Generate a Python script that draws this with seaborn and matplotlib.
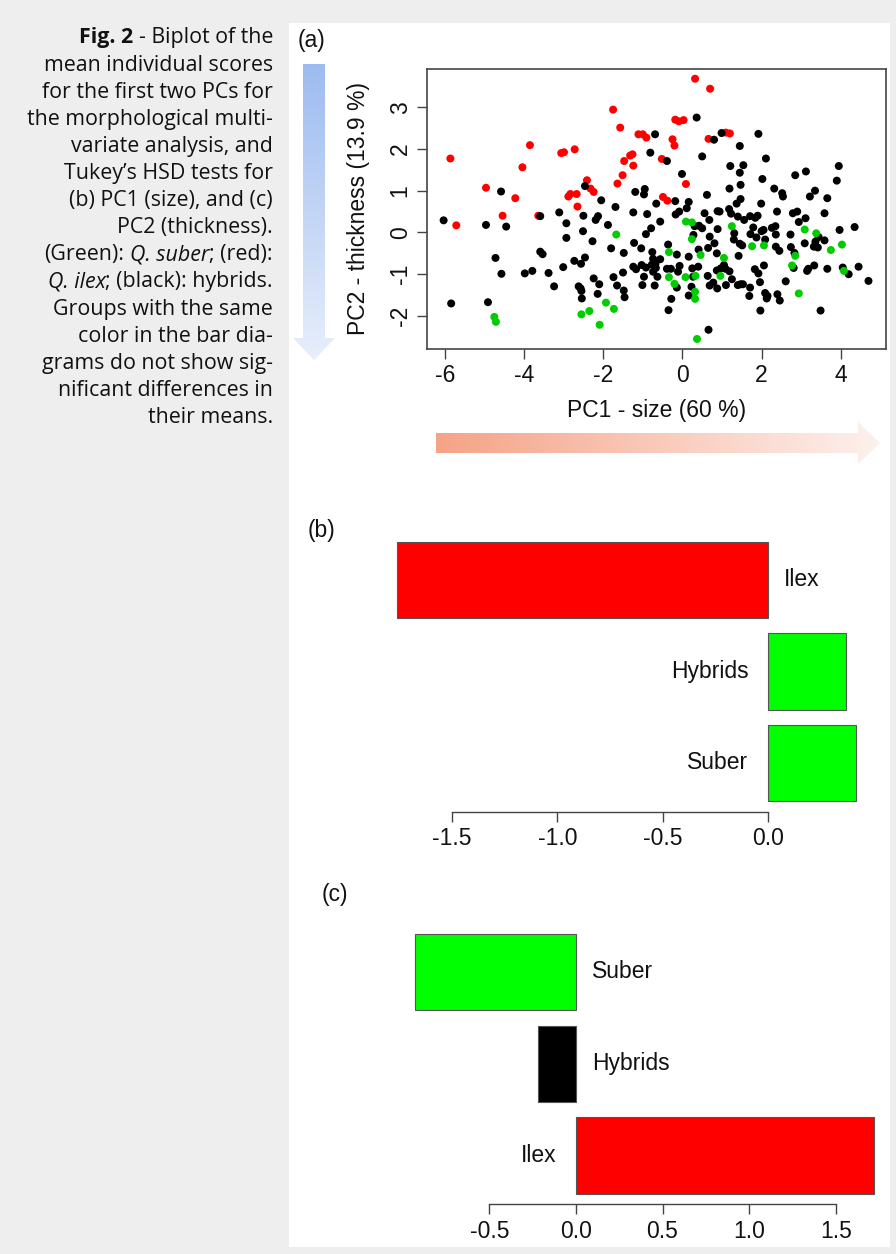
import numpy as np
import pandas as pd
import matplotlib
matplotlib.use("Agg")
import matplotlib.pyplot as plt
import seaborn as sns
from matplotlib.patches import Polygon, Rectangle
from matplotlib.colors import LinearSegmentedColormap

sns.set_theme(style="white")
plt.rcParams["font.family"] = ["Liberation Sans", "DejaVu Sans"]

# ---------------- data: (a) PCA scores ----------------
ilex_pc1 = [-5.86, -3.85, -4.04, -3.06, -2.99, -2.72, -4.96, -4.22, -2.88, -2.83, -2.67, -2.65,
            -5.71, -4.54, -3.64, 0.32, 0.70, -1.75, -1.57, -0.18, -0.09, 0.03, -1.11, -1.00,
            -0.91, -0.25, -0.20, 0.66, 1.10, 1.20, -0.52, -1.32, -1.26, -1.47, -1.24, -1.51,
            -1.64, 0.09, -2.41, -2.32, -2.24, -0.49, -0.38]
ilex_pc2 = [1.77, 2.09, 1.56, 1.90, 1.92, 1.99, 1.07, 0.82, 0.86, 0.92, 0.92, 0.62,
            0.17, 0.40, 0.40, 3.68, 3.44, 2.94, 2.51, 2.70, 2.66, 2.69, 2.35, 2.35,
            2.27, 2.23, 2.08, 2.24, 2.39, 2.37, 1.76, 1.84, 1.87, 1.71, 1.60, 1.37,
            1.17, 1.16, 1.25, 1.05, 0.97, 0.85, 0.76]

hyb_pc1 = [-4.58, -6.03, -4.96, -4.45, -3.59, -3.11, -2.93, -2.93, -3.59, -3.53, -4.72, -4.57,
           -3.98, -3.79, -3.38, -3.01, -2.73, -2.56, -3.24, -2.62, -2.57, -2.55, -2.54, -5.84,
           -4.91,
           0.36, -0.69, 0.80, 0.99, -0.81, -0.39, 0.50, -0.01, 1.21, 1.19, -2.46, -1.19,
           -0.95, -0.97, 0.62, -2.05, -0.66, -0.18, 0.16,
           -1.69, -1.24, -0.89, -2.50, -2.19, -2.13, -1.88, -2.51, -0.56, -0.79, -0.92, -0.17,
           -0.08, 0.11, -2.27, -1.80, -1.22, -1.04, -2.46, -1.48, 0.31, 0.42, 0.50, 0.28,
           0.56, 0.68, 0.69, 0.89, 0.94, 1.18, 1.23, 1.40, 0.89, 0.81, 1.31, 1.30,
           0.65, 0.87, 0.41, 0.16, -0.14, -0.36, -0.76, -0.74, -0.56, -0.77, -0.68, -0.67,
           -0.74, -1.24, -1.17, -1.03, -0.92, -0.97, -0.63, -1.01, -0.70, -0.39, -0.29, -0.07,
           -0.11, -0.14, 0.25, 0.27, 0.23, 0.16, -0.28, -0.35, 0.40, 0.64, 0.87, 0.78,
           0.69, 0.88, 0.97, 1.05, 1.09, 1.10, 1.25, 1.19, 1.40, -2.24, -2.10, -2.14,
           -1.74, -1.65, -1.50, -1.48, -1.46, 0.66,
           1.92, 1.45, 2.11, 1.54, 1.45, 2.02, 1.47, 2.85, 3.12, 3.95, 3.90, 2.32,
           2.52, 2.54, 3.35, 3.22, 3.66, 1.47, 1.99, 1.37,
           2.39, 2.79, 2.90, 3.59, 2.94, 3.11, 1.56, 1.71, 1.84, 1.90, 3.97, 4.35,
           1.79, 2.00, 2.05, 2.26, 2.35, 1.72, 1.87, 2.09, 2.36, 2.73, 3.44, 3.36,
           3.59, 3.32, 3.42, 3.09, 1.45, 1.51, 2.36, 2.45, 2.74, 2.83, 2.81, 1.42,
           2.06, 1.83, 1.92, 3.15, 3.18, 3.33, 3.66, 4.05, 4.20, 4.45, 4.70, 1.96,
           2.61, 1.47, 1.53, 1.71, 1.69, 2.09, 2.15, 2.13, 2.40, 2.46, 1.97, 3.49]
hyb_pc2 = [0.98, 0.29, 0.18, 0.14, 0.39, 0.48, 0.22, -0.13, -0.46, -0.52, -0.61, -0.99,
           -0.98, -0.92, -0.97, -0.83, -0.68, -0.75, -1.29, -1.29, -1.34, -1.40, -1.58, -1.70,
           -1.67,
           2.75, 2.35, 2.22, 2.38, 1.91, 1.71, 1.82, 1.40, 1.59, 1.05, 1.11, 0.97,
           1.04, 0.91, 0.90, 0.77, 0.69, 0.75, 0.73,
           0.61, 0.48, 0.44, 0.40, 0.30, 0.39, 0.18, 0.03, 0.26, 0.10, -0.04, 0.43,
           0.50, 0.58, -0.21, -0.38, -0.25, -0.38, -0.60, -0.49, 0.15, 0.16, 0.10, -0.06,
           0.46, 0.30, -0.10, 0.51, 0.50, 0.56, 0.45, 0.38, 0.08, -0.26, -0.02, -0.17,
           -0.37, -0.50, -0.41, -0.58, -0.53, -0.29, -0.47, -0.63, -0.64, -0.77, -0.75, -0.85,
           -0.94, -0.82, -0.88, -0.78, -0.84, -1.06, -1.06, -1.26, -1.27, -0.87, -0.87, -0.80,
           -0.94, -1.32, -0.86, -1.06, -1.30, -1.51, -1.59, -1.86, -0.82, -1.04, -0.91, -1.20,
           -1.27, -1.34, -0.86, -0.78, -0.87, -1.26, -1.12, -0.93, -1.26, -1.10, -1.24, -1.47,
           -1.07, -1.27, -0.96, -1.39, -1.55, -2.33,
           2.36, 2.07, 1.77, 1.61, 1.43, 1.28, 1.14, 1.37, 1.46, 1.59, 1.24, 1.05,
           0.94, 0.86, 1.00, 0.86, 0.82, 0.80, 0.69, 0.69,
           0.50, 0.46, 0.50, 0.46, 0.25, 0.34, 0.30, 0.39, 0.35, 0.40, 0.06, 0.13,
           0.12, 0.03, 0.06, 0.11, 0.15, -0.04, -0.12, -0.17, -0.05, -0.05, -0.11, -0.22,
           -0.19, -0.34, -0.36, -0.26, -0.27, -0.31, -0.34, -0.44, -0.35, -0.49, -0.85, -0.56,
           -0.79, -0.88, -0.98, -0.92, -0.87, -0.79, -0.87, -0.84, -1.00, -0.82, -1.16, -1.19,
           -1.17, -1.24, -1.24, -1.32, -1.52, -1.45, -1.52, -1.58, -1.48, -1.63, -1.87, -1.87]

suber_pc1 = [-4.75, -4.71, -2.55, -1.67, 0.09, 0.24, 0.24, -0.34, 1.25, 1.05, 0.46, -0.34,
             -0.20, 0.08, 0.33, 0.32, 0.32, 0.96, -1.93, -2.35, -1.73, -2.09, 0.37, 3.09,
             3.38, 1.76, 2.06, 3.75, 4.03, 2.85, 2.77, 4.08, 2.94]
suber_pc2 = [-2.02, -2.14, -1.96, -0.05, 0.26, 0.24, -0.16, -0.47, 0.15, -0.61, -0.54, -1.07,
             -1.23, -1.07, -1.04, -1.42, -1.59, -1.04, -1.68, -1.88, -1.83, -2.21, -2.55, 0.07,
             -0.02, -0.33, -0.31, -0.42, -0.29, -0.56, -0.79, -0.92, -1.46]

group_colors = {"Ilex": "#ff0000", "Hybrids": "#000000", "Suber": "#00cd00"}
pc_x_ticks = [-6, -4, -2, 0, 2, 4]
pc_y_ticks = [-2, -1, 0, 1, 2, 3]

# ---------------- data: (b) PC1 and (c) PC2 group means ----------------
b_species = ["Ilex", "Hybrids", "Suber"]
b_means = [-1.76, 0.37, 0.42]
b_colors = ["#ff0000", "#00ff00", "#00ff00"]
b_ticks = [-1.5, -1.0, -0.5, 0.0]

c_species = ["Suber", "Hybrids", "Ilex"]
c_means = [-0.93, -0.22, 1.72]
c_colors = ["#00ff00", "#000000", "#ff0000"]
c_ticks = [-0.5, 0.0, 0.5, 1.0, 1.5]

W, H = 896, 1254
FS = 16.5

fig = plt.figure(figsize=(W / 100, H / 100), dpi=100)
fig.patch.set_facecolor("#eeeeee")

# background / decoration layer in pixel coordinates
bg = fig.add_axes([0, 0, 1, 1], zorder=-5)
bg.set_xlim(0, W)
bg.set_ylim(H, 0)
bg.axis("off")
bg.add_patch(Rectangle((289, 23), 601, 1224, facecolor="white", edgecolor="none", zorder=0))


def gradient_arrow(ax, verts, extent, c0, c1, vertical):
    cmap = LinearSegmentedColormap.from_list("g", [c0, c1])
    grad = np.linspace(0, 1, 256)
    arr = grad.reshape(-1, 1) if vertical else grad.reshape(1, -1)
    im = ax.imshow(arr, extent=extent, cmap=cmap, aspect="auto", origin="upper",
                   interpolation="bilinear", zorder=1)
    poly = Polygon(verts, closed=True, facecolor="none", edgecolor="none",
                   transform=ax.transData)
    ax.add_patch(poly)
    im.set_clip_path(poly)


# vertical blue arrow (PC2)
gradient_arrow(bg,
               [(303, 64), (325, 64), (325, 338), (335, 338), (314, 360), (293, 338), (303, 338)],
               (292, 336, 361, 63), "#9dbbf0", "#e8effb", True)
# horizontal salmon arrow (PC1)
gradient_arrow(bg,
               [(436, 433), (858, 433), (858, 422), (880, 443), (858, 464), (858, 453), (436, 453)],
               (435, 881, 465, 421), "#f5a387", "#fdf1ed", False)
bg.set_xlim(0, W)
bg.set_ylim(H, 0)

# ---------------- caption ----------------
renderer = fig.canvas.get_renderer()
cap_kw = dict(fontsize=15.4, color="#111111", family=["Open Sans", "DejaVu Sans"])


def text_width(s, **kw):
    t = bg.text(0, 0, s, **kw)
    wdt = t.get_window_extent(renderer).width
    t.remove()
    return wdt


caption = [
    [("Fig. 2", "bold"), (" - Biplot of the", "normal")],
    [("mean individual scores", "normal")],
    [("for the first two PCs for", "normal")],
    [("the morphological multi-", "normal")],
    [("variate analysis, and", "normal")],
    [("Tukey’s HSD tests for", "normal")],
    [("(b) PC1 (size), and (c)", "normal")],
    [("PC2 (thickness).", "normal")],
    [("(Green): ", "normal"), ("Q. suber", "italic"), ("; (red):", "normal")],
    [("Q. ilex", "italic"), ("; (black): hybrids.", "normal")],
    [("Groups with the same", "normal")],
    [("color in the bar dia-", "normal")],
    [("grams do not show sig-", "normal")],
    [("nificant differences in", "normal")],
    [("their means.", "normal")],
]
space_w = text_width("a a", **cap_kw) - text_width("aa", **cap_kw)
x_right, y0, dy = 273, 38, 27.1
for i, segs in enumerate(caption):
    y = y0 + i * dy
    parts = []
    for txt, sty in segs:
        lead = len(txt) - len(txt.lstrip(" "))
        trail = len(txt) - len(txt.rstrip(" "))
        kw = dict(cap_kw)
        if sty == "bold":
            kw["fontweight"] = "bold"
        elif sty == "italic":
            kw["fontstyle"] = "italic"
        core = txt.strip(" ")
        parts.append((lead * space_w, core, kw, text_width(core, **kw), trail * space_w))
    total = sum(p[0] + p[3] + p[4] for p in parts)
    x = x_right - total
    for lead, core, kw, wdt, trail in parts:
        x += lead
        bg.text(x, y, core, ha="left", va="center", **kw)
        x += wdt + trail

# ---------------- (a) scatter ----------------
df = pd.DataFrame({
    "pc1": ilex_pc1 + hyb_pc1 + suber_pc1,
    "pc2": ilex_pc2 + hyb_pc2 + suber_pc2,
    "group": ["Ilex"] * len(ilex_pc1) + ["Hybrids"] * len(hyb_pc1) + ["Suber"] * len(suber_pc1),
})

axl, axr, axt, axb_ = 427, 885.5, 68.7, 349
ax = fig.add_axes([axl / W, 1 - axb_ / H, (axr - axl) / W, (axb_ - axt) / H])
sns.scatterplot(data=df, x="pc1", y="pc2", hue="group", palette=group_colors,
                s=33, linewidth=0, legend=False, ax=ax)
ax.set_xlim(-6.45, 5.13)
ax.set_ylim(-2.79, 3.92)
ax.set_xticks(pc_x_ticks)
ax.set_xticklabels([str(v) for v in pc_x_ticks])
ax.set_yticks(pc_y_ticks)
ax.set_yticklabels([str(v) for v in pc_y_ticks], rotation=90, va="center")
ax.tick_params(direction="out", length=7, width=1.0, color="#444444",
               labelsize=FS, labelcolor="#111111", pad=4, bottom=True, left=True)
for sp in ax.spines.values():
    sp.set_color("#444444")
    sp.set_linewidth(1.2)
ax.set_xlabel("PC1 - size (60 %)", fontsize=FS, color="#111111")
ax.set_ylabel("PC2 - thickness (13.9 %)", fontsize=FS, color="#111111")
ax.xaxis.set_label_coords(0.5, (axb_ - 411) / (axb_ - axt))
ax.xaxis.label.set_va("center")
ax.yaxis.set_label_coords((358 - axl) / (axr - axl), 0.5)
ax.yaxis.label.set_va("center")
ax.yaxis.label.set_rotation_mode("default")

fig.text(298 / W, 1 - 41 / H, "(a)", fontsize=FS, ha="left", va="center", color="#111111")


# ---------------- bar charts ----------------
def bar_panel(species, means, colors, ticks, px_left, px_right, px_top, px_bottom,
              xlim, label_xy, label):
    axh = fig.add_axes([px_left / W, 1 - px_bottom / H, (px_right - px_left) / W,
                        (px_bottom - px_top) / H])
    d = pd.DataFrame({"species": species, "mean": means})
    sns.barplot(data=d, x="mean", y="species", hue="species", order=species,
                palette=dict(zip(species, colors)), orient="h", width=0.8333,
                saturation=1, edgecolor="#555555", linewidth=0.8, legend=False, ax=axh)
    axh.set_xlim(*xlim)
    axh.set_ylim(2.53, -0.53)
    axh.set_xticks(ticks)
    axh.set_xticklabels([f"{t:.1f}" for t in ticks])
    axh.set_yticks([])
    axh.set_xlabel("")
    axh.set_ylabel("")
    axh.patch.set_alpha(0)
    for s in ["left", "right", "top"]:
        axh.spines[s].set_visible(False)
    axh.spines["bottom"].set_bounds(ticks[0], ticks[-1])
    axh.spines["bottom"].set_color("#444444")
    axh.spines["bottom"].set_linewidth(1.0)
    axh.tick_params(axis="x", direction="out", length=7, width=1.0, color="#444444",
                    labelsize=FS, labelcolor="#111111", pad=4, bottom=True)
    for i, (sp, m) in enumerate(zip(species, means)):
        if m < 0:
            axh.annotate(sp, xy=(0, i), xytext=(11.5, 0), textcoords="offset points",
                         ha="left", va="center", fontsize=FS, color="#111111")
        else:
            axh.annotate(sp, xy=(0, i), xytext=(-14, 0), textcoords="offset points",
                         ha="right", va="center", fontsize=FS, color="#111111")
    fig.text(label_xy[0] / W, 1 - label_xy[1] / H, label, fontsize=FS,
             ha="left", va="center", color="#111111")
    return axh


bar_panel(b_species, b_means, b_colors, b_ticks, 378.6, 874.8, 531.3, 811.5,
          (-1.848, 0.507), (308, 530), "(b)")
bar_panel(c_species, c_means, c_colors, c_ticks, 396.0, 891.7, 923.3, 1204.4,
          (-1.039, 1.823), (322, 895), "(c)")

fig.savefig("out.png", dpi=100, facecolor=fig.get_facecolor())
